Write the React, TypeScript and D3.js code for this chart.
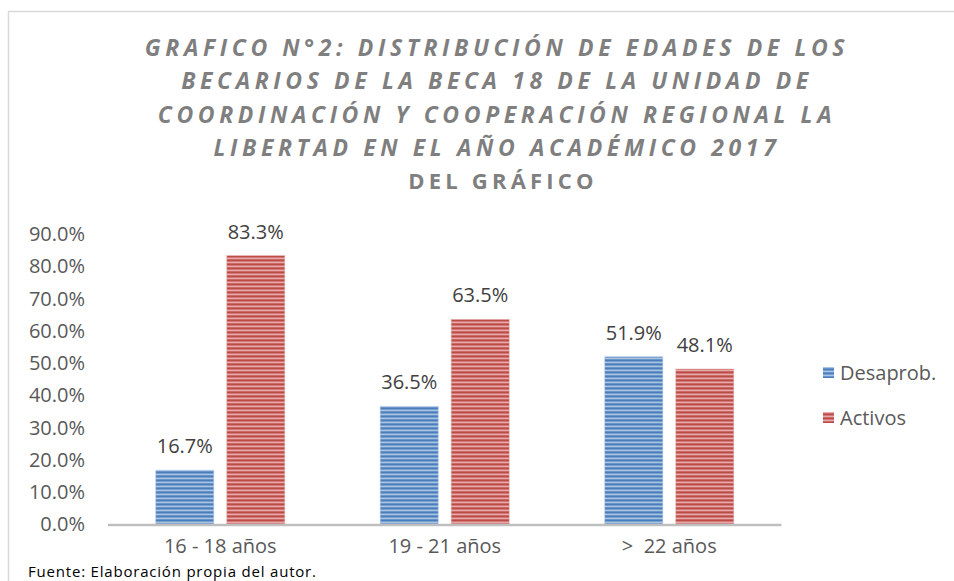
import React from "react";
import * as d3 from "d3";

const categories = ["16 - 18 años", "19 - 21 años", ">  22 años"];
const seriesNames = ["Desaprob.", "Activos"];
const desaprob = [0.167, 0.365, 0.519];
const activos = [0.833, 0.635, 0.481];
const yTicks = [0, 0.1, 0.2, 0.3, 0.4, 0.5, 0.6, 0.7, 0.8, 0.9];
const titleLines = [
  "GRAFICO N°2: DISTRIBUCIÓN DE EDADES DE LOS",
  "BECARIOS DE LA BECA 18 DE LA UNIDAD DE",
  "COORDINACIÓN Y COOPERACIÓN REGIONAL LA",
  "LIBERTAD EN EL AÑO ACADÉMICO 2017",
];
const subTitle = "DEL GRÁFICO";
const footer = "Fuente: Elaboración propia del autor.";

const W = 954;
const H = 581;
const FONT = "'Open Sans', 'Noto Sans', sans-serif";
const colors = [
  { dark: "#4a7dbb", light: "#a9c3e3", mid: "#7ea2d2" },
  { dark: "#bd4a47", light: "#e5aaa9", mid: "#d37f7d" },
];

export default function App() {
  const x0 = d3.scaleBand().domain(categories).range([108, 781.5]).padding(0);
  const groupW = 129;
  const x1 = d3
    .scaleBand()
    .domain(seriesNames)
    .range([(x0.bandwidth() - groupW) / 2, (x0.bandwidth() + groupW) / 2])
    .paddingInner(0.183);
  const y = d3.scaleLinear().domain([0, 0.9]).range([524, 234]);
  const fmt = d3.format(".1%");
  const values = [desaprob, activos];

  return (
    <svg
      width={W}
      height={H}
      style={{ position: "absolute", left: 0, top: 0, background: "#fff" }}
      fontFamily={FONT}
    >
      <defs>
        {colors.map((c, i) => (
          <pattern
            key={i}
            id={`stripe${i}`}
            patternUnits="userSpaceOnUse"
            width={8}
            height={4}
          >
            <rect width={8} height={4} fill={c.dark} />
            <rect y={1.5} width={8} height={1.5} fill={c.light} />
            <rect y={3} width={8} height={0.6} fill={c.mid} />
          </pattern>
        ))}
      </defs>
      <rect x={0} y={0} width={W} height={H} fill="#fff" />
      <rect
        x={8.5}
        y={11.5}
        width={W + 20}
        height={H + 20}
        fill="none"
        stroke="#d9d9d9"
        strokeWidth={1.5}
      />

      {/* Title */}
      {titleLines.map((t, i) => (
        <text
          key={i}
          x={497}
          y={56 + i * 33.3}
          textAnchor="middle"
          fill="#7f7f7f"
          fontSize={23}
          fontWeight={700}
          fontStyle="italic"
          letterSpacing={4.6}
        >
          {t}
        </text>
      ))}
      <text
        x={503}
        y={56 + 4 * 33.3}
        textAnchor="middle"
        fill="#7f7f7f"
        fontSize={22}
        fontWeight={700}
        letterSpacing={4.2}
      >
        {subTitle}
      </text>

      {/* Y ticks */}
      {yTicks.map((t) => (
        <text
          key={t}
          x={85}
          y={y(t)}
          dy="0.36em"
          textAnchor="end"
          fill="#595959"
          fontSize={20}
        >
          {fmt(t)}
        </text>
      ))}

      {/* Bars */}
      {categories.map((cat, ci) => (
        <g key={cat} transform={`translate(${x0(cat)},0)`}>
          {seriesNames.map((s, si) => {
            const v = values[si][ci];
            const bx = x1(s)!;
            return (
              <g key={s}>
                <rect
                  x={bx}
                  y={y(v)}
                  width={x1.bandwidth()}
                  height={y(0) - y(v)}
                  fill={`url(#stripe${si})`}
                  stroke={colors[si].light}
                  strokeOpacity={0.5}
                  strokeWidth={1}
                />
                <text
                  x={bx + x1.bandwidth() / 2}
                  y={y(v) - 17}
                  textAnchor="middle"
                  fill="#404040"
                  fontSize={20}
                >
                  {fmt(v)}
                </text>
              </g>
            );
          })}
          <text
            x={x0.bandwidth() / 2}
            y={553}
            textAnchor="middle"
            fill="#595959"
            fontSize={20}
            style={{ whiteSpace: "pre" }}
          >
            {cat}
          </text>
        </g>
      ))}

      {/* X axis line */}
      <line x1={108} x2={781.5} y1={y(0) + 1} y2={y(0) + 1} stroke="#bfbfbf" strokeWidth={2.5} />

      {/* Legend */}
      {seriesNames.map((s, i) => (
        <g key={s} transform={`translate(823,${373 + i * 45})`}>
          <rect x={0} y={-6} width={11} height={11} fill={`url(#stripe${i})`} />
          <text x={17} y={0} dy="0.36em" fill="#595959" fontSize={20}>
            {s}
          </text>
        </g>
      ))}

      {/* Footer */}
      <text x={28} y={576.5} fill="#000" fontSize={15} letterSpacing={0.8}>
        {footer}
      </text>
    </svg>
  );
}
